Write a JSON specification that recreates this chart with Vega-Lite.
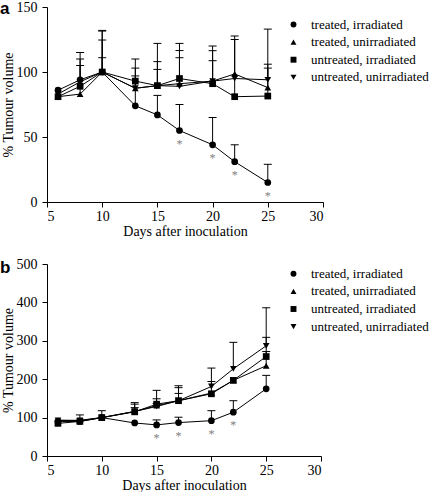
{
  "$schema": "https://vega.github.io/schema/vega-lite/v6.json",
  "padding": {"left": 0, "top": 0, "right": 0, "bottom": 0},
  "autosize": {"type": "pad"},
  "background": "white",
  "spacing": 19,
  "config": {
    "font": "Liberation Serif",
    "view": {"stroke": null},
    "axis": {"grid": false, "domainColor": "black", "tickColor": "black", "labelColor": "black", "titleColor": "black", "labelFont": "Liberation Serif", "titleFont": "Liberation Serif", "labelFontSize": 14, "titleFontSize": 14, "titleFontWeight": "normal", "tickSize": 5},
    "axisX": {"labelPadding": 2, "titlePadding": 1},
    "axisY": {"labelPadding": 5, "titlePadding": 1},
    "legend": {"labelFont": "Liberation Serif", "labelFontSize": 13, "labelColor": "black"}
  },
  "datasets": {
    "d": [
      {"panel": "a", "group": "treated, irradiated", "day": 6, "value": 86, "upper": null, "sig": 0},
      {"panel": "a", "group": "treated, irradiated", "day": 8, "value": 94, "upper": 105, "sig": 0},
      {"panel": "a", "group": "treated, irradiated", "day": 10, "value": 100, "upper": 111, "sig": 0},
      {"panel": "a", "group": "treated, irradiated", "day": 13, "value": 74, "upper": 97, "sig": 0},
      {"panel": "a", "group": "treated, irradiated", "day": 15, "value": 67, "upper": 82, "sig": 0},
      {"panel": "a", "group": "treated, irradiated", "day": 17, "value": 55, "upper": 75, "sig": 1},
      {"panel": "a", "group": "treated, irradiated", "day": 20, "value": 44, "upper": 65, "sig": 1},
      {"panel": "a", "group": "treated, irradiated", "day": 22, "value": 31, "upper": 44, "sig": 1},
      {"panel": "a", "group": "treated, irradiated", "day": 25, "value": 15, "upper": 29, "sig": 1},
      {"panel": "a", "group": "treated, unirradiated", "day": 6, "value": 81, "upper": null, "sig": 0},
      {"panel": "a", "group": "treated, unirradiated", "day": 8, "value": 83, "upper": 110, "sig": 0},
      {"panel": "a", "group": "treated, unirradiated", "day": 10, "value": 100, "upper": 124.6, "sig": 0},
      {"panel": "a", "group": "treated, unirradiated", "day": 13, "value": 87.5, "upper": 103, "sig": 0},
      {"panel": "a", "group": "treated, unirradiated", "day": 15, "value": 89.5, "upper": 102, "sig": 0},
      {"panel": "a", "group": "treated, unirradiated", "day": 17, "value": 91, "upper": 111, "sig": 0},
      {"panel": "a", "group": "treated, unirradiated", "day": 20, "value": 93, "upper": 108.7, "sig": 0},
      {"panel": "a", "group": "treated, unirradiated", "day": 22, "value": 98.5, "upper": 127.7, "sig": 0},
      {"panel": "a", "group": "treated, unirradiated", "day": 25, "value": 88, "upper": 106, "sig": 0},
      {"panel": "a", "group": "untreated, irradiated", "day": 6, "value": 81, "upper": null, "sig": 0},
      {"panel": "a", "group": "untreated, irradiated", "day": 8, "value": 89, "upper": 115, "sig": 0},
      {"panel": "a", "group": "untreated, irradiated", "day": 10, "value": 100, "upper": 131.5, "sig": 0},
      {"panel": "a", "group": "untreated, irradiated", "day": 13, "value": 93, "upper": 110, "sig": 0},
      {"panel": "a", "group": "untreated, irradiated", "day": 15, "value": 89.5, "upper": 122, "sig": 0},
      {"panel": "a", "group": "untreated, irradiated", "day": 17, "value": 95, "upper": 122, "sig": 0},
      {"panel": "a", "group": "untreated, irradiated", "day": 20, "value": 91, "upper": 120, "sig": 0},
      {"panel": "a", "group": "untreated, irradiated", "day": 22, "value": 81, "upper": 125, "sig": 0},
      {"panel": "a", "group": "untreated, irradiated", "day": 25, "value": 81.5, "upper": 103, "sig": 0},
      {"panel": "a", "group": "untreated, unirradiated", "day": 6, "value": 83, "upper": null, "sig": 0},
      {"panel": "a", "group": "untreated, unirradiated", "day": 8, "value": 92.5, "upper": null, "sig": 0},
      {"panel": "a", "group": "untreated, unirradiated", "day": 10, "value": 100, "upper": 132, "sig": 0},
      {"panel": "a", "group": "untreated, unirradiated", "day": 13, "value": 87.5, "upper": null, "sig": 0},
      {"panel": "a", "group": "untreated, unirradiated", "day": 15, "value": 89.5, "upper": 108, "sig": 0},
      {"panel": "a", "group": "untreated, unirradiated", "day": 17, "value": 89, "upper": 116.5, "sig": 0},
      {"panel": "a", "group": "untreated, unirradiated", "day": 20, "value": 93, "upper": 116.4, "sig": 0},
      {"panel": "a", "group": "untreated, unirradiated", "day": 22, "value": 95, "upper": null, "sig": 0},
      {"panel": "a", "group": "untreated, unirradiated", "day": 25, "value": 94, "upper": 133, "sig": 0},
      {"panel": "b", "group": "treated, irradiated", "day": 6, "value": 90, "upper": null, "sig": 0},
      {"panel": "b", "group": "treated, irradiated", "day": 8, "value": 90, "upper": null, "sig": 0},
      {"panel": "b", "group": "treated, irradiated", "day": 10, "value": 100, "upper": null, "sig": 0},
      {"panel": "b", "group": "treated, irradiated", "day": 13, "value": 86, "upper": null, "sig": 0},
      {"panel": "b", "group": "treated, irradiated", "day": 15, "value": 81, "upper": 94, "sig": 1},
      {"panel": "b", "group": "treated, irradiated", "day": 17, "value": 87, "upper": 101, "sig": 1},
      {"panel": "b", "group": "treated, irradiated", "day": 20, "value": 92, "upper": 118, "sig": 1},
      {"panel": "b", "group": "treated, irradiated", "day": 22, "value": 114, "upper": 144, "sig": 1},
      {"panel": "b", "group": "treated, irradiated", "day": 25, "value": 175, "upper": 210, "sig": 0},
      {"panel": "b", "group": "treated, unirradiated", "day": 6, "value": 93, "upper": null, "sig": 0},
      {"panel": "b", "group": "treated, unirradiated", "day": 8, "value": 92, "upper": null, "sig": 0},
      {"panel": "b", "group": "treated, unirradiated", "day": 10, "value": 100, "upper": 118, "sig": 0},
      {"panel": "b", "group": "treated, unirradiated", "day": 13, "value": 116, "upper": 126, "sig": 0},
      {"panel": "b", "group": "treated, unirradiated", "day": 15, "value": 131, "upper": 137, "sig": 0},
      {"panel": "b", "group": "treated, unirradiated", "day": 17, "value": 144, "upper": 163, "sig": 0},
      {"panel": "b", "group": "treated, unirradiated", "day": 20, "value": 164, "upper": 194, "sig": 0},
      {"panel": "b", "group": "treated, unirradiated", "day": 22, "value": 197, "upper": null, "sig": 0},
      {"panel": "b", "group": "treated, unirradiated", "day": 25, "value": 235, "upper": 309, "sig": 0},
      {"panel": "b", "group": "untreated, irradiated", "day": 6, "value": 85, "upper": null, "sig": 0},
      {"panel": "b", "group": "untreated, irradiated", "day": 8, "value": 90, "upper": 107, "sig": 0},
      {"panel": "b", "group": "untreated, irradiated", "day": 10, "value": 100, "upper": null, "sig": 0},
      {"panel": "b", "group": "untreated, irradiated", "day": 13, "value": 115, "upper": 135, "sig": 0},
      {"panel": "b", "group": "untreated, irradiated", "day": 15, "value": 135, "upper": 149, "sig": 0},
      {"panel": "b", "group": "untreated, irradiated", "day": 17, "value": 144, "upper": 178, "sig": 0},
      {"panel": "b", "group": "untreated, irradiated", "day": 20, "value": 162, "upper": null, "sig": 0},
      {"panel": "b", "group": "untreated, irradiated", "day": 22, "value": 197, "upper": null, "sig": 0},
      {"panel": "b", "group": "untreated, irradiated", "day": 25, "value": 259, "upper": 272, "sig": 0},
      {"panel": "b", "group": "untreated, unirradiated", "day": 6, "value": 93, "upper": null, "sig": 0},
      {"panel": "b", "group": "untreated, unirradiated", "day": 8, "value": 93, "upper": null, "sig": 0},
      {"panel": "b", "group": "untreated, unirradiated", "day": 10, "value": 100, "upper": null, "sig": 0},
      {"panel": "b", "group": "untreated, unirradiated", "day": 13, "value": 116, "upper": 139, "sig": 0},
      {"panel": "b", "group": "untreated, unirradiated", "day": 15, "value": 129, "upper": 171, "sig": 0},
      {"panel": "b", "group": "untreated, unirradiated", "day": 17, "value": 144, "upper": 183, "sig": 0},
      {"panel": "b", "group": "untreated, unirradiated", "day": 20, "value": 181, "upper": 229, "sig": 0},
      {"panel": "b", "group": "untreated, unirradiated", "day": 22, "value": 227, "upper": 296, "sig": 0},
      {"panel": "b", "group": "untreated, unirradiated", "day": 25, "value": 287, "upper": 386, "sig": 0}
    ]
  },
  "vconcat": [
    {
      "width": 276,
      "height": 195,
      "title": {"text": "a", "anchor": "start", "frame": "group", "font": "Liberation Sans", "fontWeight": "bold", "fontSize": 17, "dx": -47, "dy": 18, "offset": 0},
      "data": {"name": "d"},
      "transform": [{"filter": "datum.panel == 'a'"}],
      "encoding": {
        "x": {"field": "day", "type": "quantitative", "scale": {"domain": [5, 30], "nice": false}, "axis": {"values": [5, 10, 15, 20, 25, 30], "title": "Days after inoculation"}}
      },
      "layer": [
        {
          "transform": [{"filter": "datum.upper != null"}],
          "mark": {"type": "rule", "color": "black", "strokeWidth": 1},
          "encoding": {
            "y": {"field": "value", "type": "quantitative", "scale": {"domain": [0, 150], "nice": false}, "axis": {"values": [0, 50, 100, 150], "title": "% Tumour volume"}},
            "y2": {"field": "upper"}
          }
        },
        {
          "transform": [{"filter": "datum.upper != null"}],
          "mark": {"type": "tick", "orient": "horizontal", "size": 8, "thickness": 1, "color": "black", "opacity": 1},
          "encoding": {
            "y": {"field": "upper", "type": "quantitative", "scale": {"domain": [0, 150], "nice": false}, "axis": {"values": [0, 50, 100, 150], "title": "% Tumour volume"}}
          }
        },
        {
          "mark": {"type": "line", "color": "black", "strokeWidth": 1},
          "encoding": {
            "y": {"field": "value", "type": "quantitative", "scale": {"domain": [0, 150], "nice": false}, "axis": {"values": [0, 50, 100, 150], "title": "% Tumour volume"}},
            "detail": {"field": "group"}
          }
        },
        {
          "mark": {"type": "point", "filled": true, "color": "black", "opacity": 1, "size": 45},
          "encoding": {
            "y": {"field": "value", "type": "quantitative", "scale": {"domain": [0, 150], "nice": false}, "axis": {"values": [0, 50, 100, 150], "title": "% Tumour volume"}},
            "shape": {"field": "group", "type": "nominal", "scale": {"domain": ["treated, irradiated", "treated, unirradiated", "untreated, irradiated", "untreated, unirradiated"], "range": ["circle", "triangle-up", "square", "triangle-down"]}, "legend": {"orient": "none", "legendX": 240, "legendY": 11, "title": null, "symbolSize": 35, "symbolFillColor": "black", "symbolStrokeWidth": 0, "rowPadding": 3.6, "labelOffset": 11, "padding": 0}}
          }
        },
        {
          "transform": [{"filter": "datum.sig == 1"}],
          "mark": {"type": "text", "text": "*", "dy": 13, "color": "#808080", "fontSize": 12, "baseline": "middle"},
          "encoding": {
            "y": {"field": "value", "type": "quantitative", "scale": {"domain": [0, 150], "nice": false}, "axis": {"values": [0, 50, 100, 150], "title": "% Tumour volume"}}
          }
        }
      ]
    },
    {
      "width": 274,
      "height": 192,
      "title": {"text": "b", "anchor": "start", "frame": "group", "font": "Liberation Sans", "fontWeight": "bold", "fontSize": 17, "dx": -47, "dy": 20, "offset": 0},
      "data": {"name": "d"},
      "transform": [{"filter": "datum.panel == 'b'"}],
      "encoding": {
        "x": {"field": "day", "type": "quantitative", "scale": {"domain": [5, 30], "nice": false}, "axis": {"values": [5, 10, 15, 20, 25, 30], "title": "Days after inoculation"}}
      },
      "layer": [
        {
          "transform": [{"filter": "datum.upper != null"}],
          "mark": {"type": "rule", "color": "black", "strokeWidth": 1},
          "encoding": {
            "y": {"field": "value", "type": "quantitative", "scale": {"domain": [0, 500], "nice": false}, "axis": {"values": [0, 100, 200, 300, 400, 500], "title": "% Tumour volume"}},
            "y2": {"field": "upper"}
          }
        },
        {
          "transform": [{"filter": "datum.upper != null"}],
          "mark": {"type": "tick", "orient": "horizontal", "size": 8, "thickness": 1, "color": "black", "opacity": 1},
          "encoding": {
            "y": {"field": "upper", "type": "quantitative", "scale": {"domain": [0, 500], "nice": false}, "axis": {"values": [0, 100, 200, 300, 400, 500], "title": "% Tumour volume"}}
          }
        },
        {
          "mark": {"type": "line", "color": "black", "strokeWidth": 1},
          "encoding": {
            "y": {"field": "value", "type": "quantitative", "scale": {"domain": [0, 500], "nice": false}, "axis": {"values": [0, 100, 200, 300, 400, 500], "title": "% Tumour volume"}},
            "detail": {"field": "group"}
          }
        },
        {
          "mark": {"type": "point", "filled": true, "color": "black", "opacity": 1, "size": 45},
          "encoding": {
            "y": {"field": "value", "type": "quantitative", "scale": {"domain": [0, 500], "nice": false}, "axis": {"values": [0, 100, 200, 300, 400, 500], "title": "% Tumour volume"}},
            "shape": {"field": "group", "type": "nominal", "scale": {"domain": ["treated, irradiated", "treated, unirradiated", "untreated, irradiated", "untreated, unirradiated"], "range": ["circle", "triangle-up", "square", "triangle-down"]}, "legend": {"orient": "none", "legendX": 240, "legendY": 3.3, "title": null, "symbolSize": 35, "symbolFillColor": "black", "symbolStrokeWidth": 0, "rowPadding": 3.6, "labelOffset": 11, "padding": 0}}
          }
        },
        {
          "transform": [{"filter": "datum.sig == 1"}],
          "mark": {"type": "text", "text": "*", "dy": 13, "color": "#808080", "fontSize": 12, "baseline": "middle"},
          "encoding": {
            "y": {"field": "value", "type": "quantitative", "scale": {"domain": [0, 500], "nice": false}, "axis": {"values": [0, 100, 200, 300, 400, 500], "title": "% Tumour volume"}}
          }
        }
      ]
    }
  ],
  "resolve": {"scale": {"shape": "independent"}, "legend": {"shape": "independent"}}
}
